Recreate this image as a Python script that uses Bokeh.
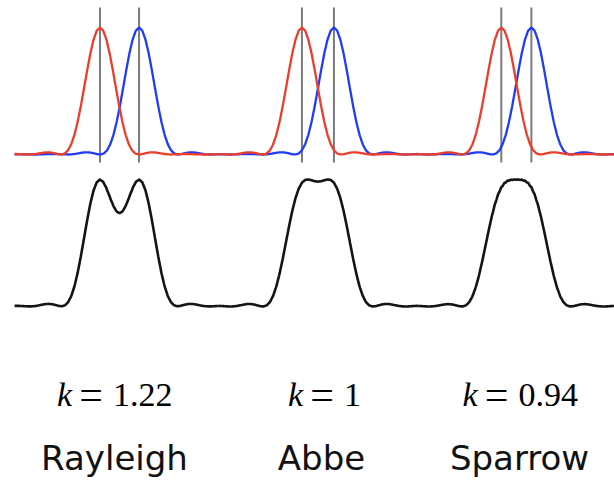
import numpy as np
from bokeh.plotting import figure
from bokeh.models import Range1d, ColumnDataSource
from bokeh.embed import file_html
from bokeh.resources import INLINE
from bokeh.core.properties import value

# ---------------- data ----------------
criteria = ["Rayleigh", "Abbe", "Sparrow"]
k_values = [1.22, 1.0, 0.94]          # separation of the two point images
k_labels = ["1.22", "1", "0.94"]

# radial intensity profile of one point image (Airy pattern), read at steps of 0.1
psf_r = [0.0, 0.1, 0.2, 0.3, 0.4, 0.5, 0.6, 0.7, 0.8, 0.9,
         1.0, 1.1, 1.2, 1.3, 1.4, 1.5, 1.6, 1.7, 1.8, 1.9,
         2.0, 2.1, 2.2, 2.3, 2.4, 2.5, 2.6, 2.7, 2.8, 2.9,
         3.0, 3.1, 3.2, 3.3, 3.4, 3.5, 3.6, 3.7, 3.8, 3.9,
         4.0, 4.1, 4.2, 4.3, 4.4, 4.5]
psf_intensity = [1.0, 0.9756, 0.9053, 0.7975, 0.6645, 0.5209, 0.3806, 0.2558, 0.1544, 0.0803,
                 0.0328, 0.0081, 0.0002, 0.0022, 0.0085, 0.0141, 0.0172, 0.0167, 0.0135, 0.0089,
                 0.0045, 0.0015, 0.0001, 0.0003, 0.0015, 0.0029, 0.0039, 0.0041, 0.0036, 0.0026,
                 0.0015, 0.0006, 0.0000, 0.0001, 0.0006, 0.0011, 0.0015, 0.0016, 0.0015, 0.0011,
                 0.0006, 0.0002, 0.0000, 0.0001, 0.0003, 0.0006]

# ---------------- layout ----------------
W, H = 614, 480
PX_PER_UNIT = 32.0
PX_PER_INT = 127.0
X_START = -3.72
group_centers = [0.0, 6.2, 12.4]
TOP_BASE_PX = 154
BOTTOM_BASE_PX = 306
bottom_offset = -(BOTTOM_BASE_PX - TOP_BASE_PX) / PX_PER_INT

RED = "#ee3c2b"
BLUE = "#1f3cf8"
GRAY = "#5a5a5a"
BLACK = "#141414"


def px_to_x(px):
    return X_START + px / PX_PER_UNIT


def px_to_y(py):
    return (TOP_BASE_PX - py) / PX_PER_INT


def psf(x):
    return np.interp(np.abs(x), psf_r, psf_intensity, right=0.0)


p = figure(width=W, height=H, output_backend="svg", toolbar_location=None,
           x_range=Range1d(X_START, X_START + W / PX_PER_UNIT),
           y_range=Range1d(px_to_y(H), px_to_y(0)),
           min_border=0, outline_line_color=None,
           x_axis_location=None, y_axis_location=None,
           background_fill_color="white", border_fill_color="white")
p.grid.visible = False

peaks = []
for i, (c, d) in enumerate(zip(group_centers, k_values)):
    lo = c - (3.28 if i == 0 else 3.1)
    hi = c + (3.4 if i == len(group_centers) - 1 else 3.1)
    xs = np.linspace(lo, hi, 500)
    x_red = c - d / 2
    x_blue = c + d / 2
    peaks += [x_red, x_blue]
    red = psf(xs - x_red)
    blue = psf(xs - x_blue)
    total = red + blue
    total = total / total.max()
    src = ColumnDataSource(dict(x=xs, red=red, blue=blue, total=total + bottom_offset))
    p.line("x", "blue", source=src, line_color=BLUE, line_width=2.3)
    p.line("x", "red", source=src, line_color=RED, line_width=2.3)
    p.line("x", "total", source=src, line_color=BLACK, line_width=2.6)

# vertical markers at the peak centres
p.segment(x0=peaks, x1=peaks, y0=[px_to_y(162)] * len(peaks), y1=[px_to_y(7)] * len(peaks),
          line_color=GRAY, line_width=2, line_alpha=0.8, level="underlay")

# ---------------- texts ----------------
label_px = [114, 321, 519]
eq_px = [90.5, 321.5, 496]
K_BASE = px_to_y(394)
L_BASE = px_to_y(457)

k_src = ColumnDataSource(dict(x=[px_to_x(v - 19) for v in eq_px], y=[K_BASE] * 3, t=["k"] * 3))
eq_src = ColumnDataSource(dict(x=[px_to_x(v) for v in eq_px], y=[K_BASE] * 3, t=["="] * 3))
num_src = ColumnDataSource(dict(x=[px_to_x(v + 22) for v in eq_px], y=[K_BASE] * 3, t=k_labels))
lab_src = ColumnDataSource(dict(x=[px_to_x(v) for v in label_px], y=[L_BASE] * 3, t=criteria))

p.text("x", "y", text="t", source=k_src, text_font=value("Liberation Serif"),
       text_font_style="italic", text_font_size="34px", text_align="right",
       text_baseline="alphabetic", text_color="black")
p.text("x", "y", text="t", source=eq_src, text_font=value("Liberation Serif"),
       text_font_size="42px", text_align="center",
       text_baseline="alphabetic", text_color="black")
p.text("x", "y", text="t", source=num_src, text_font=value("Liberation Serif"),
       text_font_size="34px", text_align="left",
       text_baseline="alphabetic", text_color="black")
p.text("x", "y", text="t", source=lab_src, text_font=value("DejaVu Sans"),
       text_font_size="34px", text_align="center",
       text_baseline="alphabetic", text_color="#111111")

open("out.html", "w").write(file_html(p, INLINE))
